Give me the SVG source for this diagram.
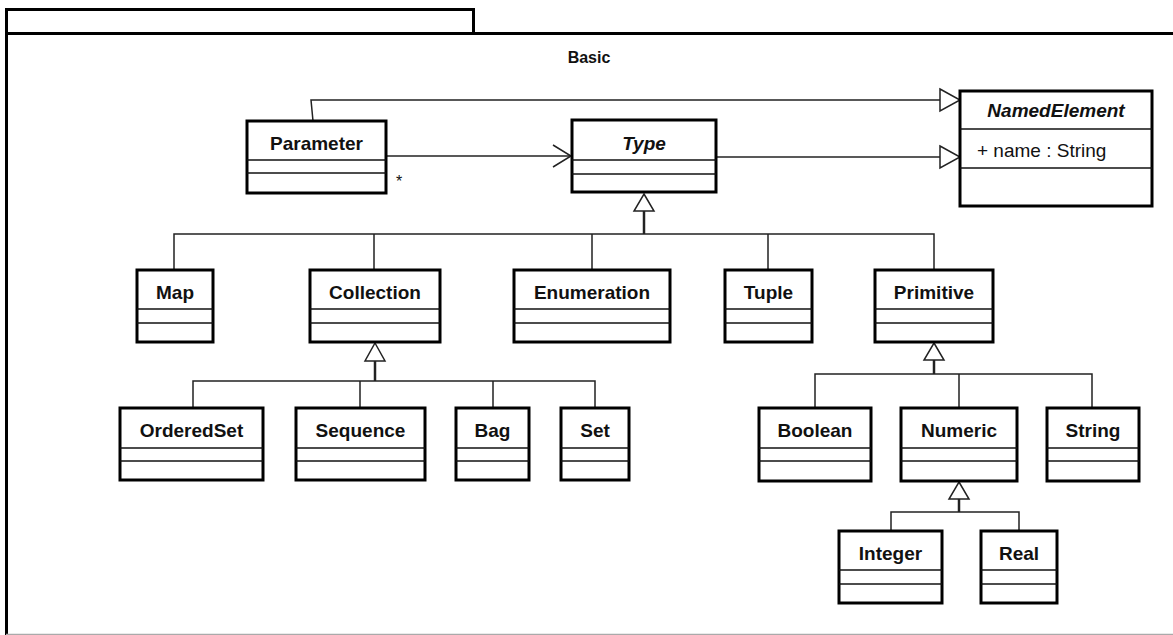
<svg xmlns="http://www.w3.org/2000/svg" width="1173" height="635" viewBox="0 0 1173 635">
  <style>
    .frame { fill: none; stroke: #000; stroke-width: 3; }
    .box { fill: #fff; stroke: #000; stroke-width: 3; }
    .sep { stroke: #111; stroke-width: 1.3; }
    .edge { fill: none; stroke: #222; stroke-width: 1.5; }
    .stem { fill: none; stroke: #222; stroke-width: 2.5; }
    .tri { fill: #fff; stroke: #222; stroke-width: 1.5; }
    .name { font-family: "Liberation Sans", Arial, sans-serif; font-size: 19px; font-weight: bold; text-anchor: middle; fill: #111; }
    .abstract { font-style: italic; }
    .attr { font-family: "Liberation Sans", Arial, sans-serif; font-size: 19px; fill: #111; }
    .title { font-family: "Liberation Sans", Arial, sans-serif; font-size: 16px; font-weight: bold; text-anchor: middle; fill: #111; }
    .mult { font-family: "Liberation Sans", Arial, sans-serif; font-size: 16px; fill: #111; }
  </style>

  <rect width="1173" height="635" fill="#fff"/>

  <!-- package frame -->
  <g id="package-basic">
    <rect class="frame" x="6.5" y="9.5" width="467" height="24"/>
    <path class="frame" d="M6.5 33.5 H1180 M6.5 33.5 V640"/>
    <line x1="6" y1="634.5" x2="1173" y2="634.5" stroke="#aaa" stroke-width="1.5"/>
    <text class="title" x="589" y="63">Basic</text>
  </g>

  <!-- connectors -->
  <g id="connectors">
    <!-- Parameter -> NamedElement -->
    <polyline class="edge" points="313,121 311,100 940,100"/>
    <polygon class="tri" points="940,89 960,100 940,111"/>
    <!-- Type -> NamedElement -->
    <line class="edge" x1="716" y1="157" x2="940" y2="157"/>
    <polygon class="tri" points="940,146 960,157 940,168"/>
    <!-- Parameter -> Type association -->
    <line class="edge" x1="386" y1="156" x2="571" y2="156"/>
    <polyline class="edge" points="553,145 571,156 553,167"/>
    <text class="mult" x="396" y="187">*</text>

    <!-- Type specializations -->
    <polygon class="tri" points="644,194 654,211 634,211"/>
    <line class="stem" x1="644" y1="211" x2="644" y2="234"/>
    <path class="edge" d="M174 270 V234 H934 V270 M374 234 V270 M592 234 V270 M768 234 V270"/>

    <!-- Collection specializations -->
    <polygon class="tri" points="375,343 385,361 365,361"/>
    <line class="stem" x1="375" y1="361" x2="375" y2="381"/>
    <path class="edge" d="M193 408 V381 H595 V408 M360 381 V408 M493 381 V408"/>

    <!-- Primitive specializations -->
    <polygon class="tri" points="934,343 944,360 924,360"/>
    <line class="stem" x1="934" y1="360" x2="934" y2="374"/>
    <path class="edge" d="M815 408 V374 H1092 V408 M959 374 V408"/>

    <!-- Numeric specializations -->
    <polygon class="tri" points="959,482 969,499 949,499"/>
    <line class="stem" x1="959" y1="499" x2="959" y2="512"/>
    <path class="edge" d="M891 531 V512 H1019 V531"/>
  </g>

  <g id="NamedElement">
    <rect class="box" x="960" y="91" width="192" height="115"/>
    <line class="sep" x1="960" y1="129" x2="1152" y2="129"/>
    <line class="sep" x1="960" y1="168" x2="1152" y2="168"/>
    <text class="name abstract" x="1056" y="117">NamedElement</text>
    <text class="attr" x="977" y="157">+ name : String</text>
  </g>

  <g id="Parameter">
    <rect class="box" x="247" y="121" width="139" height="72"/>
    <line class="sep" x1="247" y1="160" x2="386" y2="160"/>
    <line class="sep" x1="247" y1="173" x2="386" y2="173"/>
    <text class="name" x="316.5" y="150">Parameter</text>
  </g>

  <g id="Type">
    <rect class="box" x="572" y="120" width="144" height="72"/>
    <line class="sep" x1="572" y1="160" x2="716" y2="160"/>
    <line class="sep" x1="572" y1="174" x2="716" y2="174"/>
    <text class="name abstract" x="644" y="150">Type</text>
  </g>

  <g id="Map">
    <rect class="box" x="137" y="270" width="76" height="72"/>
    <line class="sep" x1="137" y1="309" x2="213" y2="309"/>
    <line class="sep" x1="137" y1="323" x2="213" y2="323"/>
    <text class="name" x="175" y="299">Map</text>
  </g>

  <g id="Collection">
    <rect class="box" x="310" y="270" width="130" height="72"/>
    <line class="sep" x1="310" y1="309" x2="440" y2="309"/>
    <line class="sep" x1="310" y1="323" x2="440" y2="323"/>
    <text class="name" x="375" y="299">Collection</text>
  </g>

  <g id="Enumeration">
    <rect class="box" x="514" y="270" width="156" height="72"/>
    <line class="sep" x1="514" y1="309" x2="670" y2="309"/>
    <line class="sep" x1="514" y1="323" x2="670" y2="323"/>
    <text class="name" x="592" y="299">Enumeration</text>
  </g>

  <g id="Tuple">
    <rect class="box" x="725" y="270" width="87" height="72"/>
    <line class="sep" x1="725" y1="309" x2="812" y2="309"/>
    <line class="sep" x1="725" y1="323" x2="812" y2="323"/>
    <text class="name" x="768.5" y="299">Tuple</text>
  </g>

  <g id="Primitive">
    <rect class="box" x="875" y="270" width="118" height="72"/>
    <line class="sep" x1="875" y1="309" x2="993" y2="309"/>
    <line class="sep" x1="875" y1="323" x2="993" y2="323"/>
    <text class="name" x="934" y="299">Primitive</text>
  </g>

  <g id="OrderedSet">
    <rect class="box" x="120" y="408" width="143" height="72"/>
    <line class="sep" x1="120" y1="448" x2="263" y2="448"/>
    <line class="sep" x1="120" y1="461" x2="263" y2="461"/>
    <text class="name" x="191.5" y="437">OrderedSet</text>
  </g>

  <g id="Sequence">
    <rect class="box" x="296" y="408" width="129" height="72"/>
    <line class="sep" x1="296" y1="448" x2="425" y2="448"/>
    <line class="sep" x1="296" y1="461" x2="425" y2="461"/>
    <text class="name" x="360.5" y="437">Sequence</text>
  </g>

  <g id="Bag">
    <rect class="box" x="456" y="408" width="73" height="72"/>
    <line class="sep" x1="456" y1="448" x2="529" y2="448"/>
    <line class="sep" x1="456" y1="461" x2="529" y2="461"/>
    <text class="name" x="492.5" y="437">Bag</text>
  </g>

  <g id="Set">
    <rect class="box" x="561" y="408" width="68" height="72"/>
    <line class="sep" x1="561" y1="448" x2="629" y2="448"/>
    <line class="sep" x1="561" y1="461" x2="629" y2="461"/>
    <text class="name" x="595" y="437">Set</text>
  </g>

  <g id="Boolean">
    <rect class="box" x="759" y="408" width="112" height="73"/>
    <line class="sep" x1="759" y1="448" x2="871" y2="448"/>
    <line class="sep" x1="759" y1="461" x2="871" y2="461"/>
    <text class="name" x="815" y="437">Boolean</text>
  </g>

  <g id="Numeric">
    <rect class="box" x="901" y="408" width="116" height="73"/>
    <line class="sep" x1="901" y1="448" x2="1017" y2="448"/>
    <line class="sep" x1="901" y1="461" x2="1017" y2="461"/>
    <text class="name" x="959" y="437">Numeric</text>
  </g>

  <g id="String">
    <rect class="box" x="1047" y="408" width="92" height="73"/>
    <line class="sep" x1="1047" y1="448" x2="1139" y2="448"/>
    <line class="sep" x1="1047" y1="461" x2="1139" y2="461"/>
    <text class="name" x="1093" y="437">String</text>
  </g>

  <g id="Integer">
    <rect class="box" x="839" y="531" width="103" height="72"/>
    <line class="sep" x1="839" y1="570" x2="942" y2="570"/>
    <line class="sep" x1="839" y1="584" x2="942" y2="584"/>
    <text class="name" x="890.5" y="560">Integer</text>
  </g>

  <g id="Real">
    <rect class="box" x="981" y="531" width="76" height="72"/>
    <line class="sep" x1="981" y1="570" x2="1057" y2="570"/>
    <line class="sep" x1="981" y1="584" x2="1057" y2="584"/>
    <text class="name" x="1019" y="560">Real</text>
  </g>
</svg>
